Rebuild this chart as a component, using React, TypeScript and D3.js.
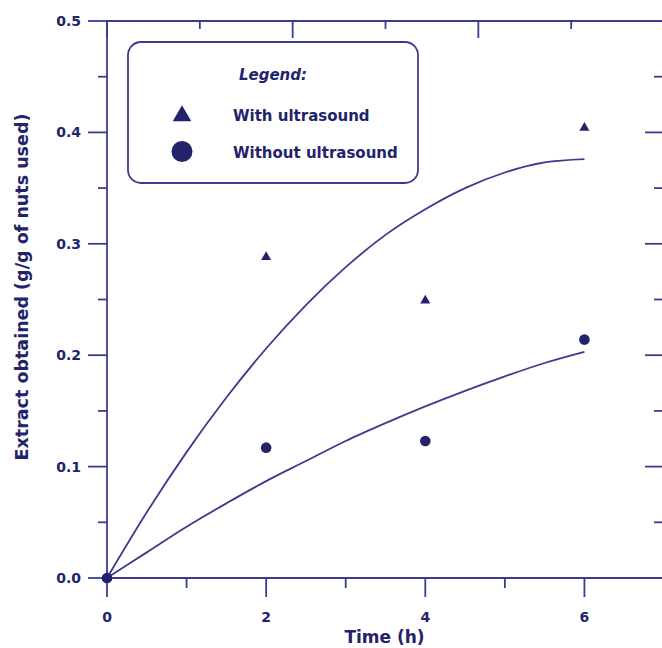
import React from "react";
import * as d3 from "d3";

// Measured data points (Time in h, extract g/g)
const timesMeasured = [0, 2, 4, 6];
const withUltrasound = [0, 0.288, 0.249, 0.404];
const withoutUltrasound = [0, 0.117, 0.123, 0.214];

// Fitted trend curves
const curveTimes = [0, 0.5, 1, 1.5, 2, 2.5, 3, 3.5, 4, 4.5, 5, 5.5, 6];
const curveWith = [0, 0.059, 0.113, 0.162, 0.206, 0.245, 0.279, 0.308, 0.331, 0.35, 0.364, 0.373, 0.376];
const curveWithout = [0, 0.023, 0.046, 0.067, 0.087, 0.105, 0.123, 0.139, 0.154, 0.168, 0.181, 0.193, 0.203];

// Axis ticks
const xMajorTicks = [0, 2, 4, 6];
const xMinorTicks = [1, 3, 5, 7];
const yMajorTicks = [0, 0.1, 0.2, 0.3, 0.4, 0.5];
const yMinorTicks = [0.05, 0.15, 0.25, 0.35, 0.45];
const topMajorTicks = [0, 2, 4, 6];
const topMinorTicks = [1, 3, 5];

const legendTitle = "Legend:";
const seriesNames = ["With ultrasound", "Without ultrasound"];
const xTitle = "Time (h)";
const yTitle = "Extract obtained (g/g of nuts used)";

const TEXT = "#23236c";
const LINE = "#3c3c8f";
const FONT = "'DejaVu Sans', sans-serif";

export default function App() {
  const W = 662, H = 648;
  const x = d3.scaleLinear().domain([0, 7]).range([107, 664]);
  const xTop = d3.scaleLinear().domain([0, 6]).range([107, 664]);
  const y = d3.scaleLinear().domain([0, 0.5]).range([578, 21]);
  const x0 = x(0), x1 = x(7), y0 = y(0), y1 = y(0.5);

  const line = d3
    .line<number>()
    .x((_, i) => x(curveTimes[i]))
    .y((d) => y(d))
    .curve(d3.curveMonotoneX);

  const triSmall = d3.symbol(d3.symbolTriangle, 44)()!;
  const triBig = d3.symbol(d3.symbolTriangle, 150)()!;
  const fmt = d3.format(".1f");

  return (
    <svg width={W} height={H} style={{ position: "absolute", left: 0, top: 0 }} fontFamily={FONT}>
      <rect x={0} y={0} width={W} height={H} fill="#fff" />
      {/* frame */}
      <g stroke={LINE} strokeWidth={1.8} fill="none">
        <line x1={x0} y1={y0} x2={x1} y2={y0} />
        <line x1={x0} y1={y1} x2={x1} y2={y1} />
        <line x1={x0} y1={y0 + 1} x2={x0} y2={y1} />
        <line x1={x1} y1={y0} x2={x1} y2={y1} />
        {/* left ticks */}
        {yMajorTicks.map((t) => (
          <line key={"lm" + t} x1={x0 - 19} x2={x0} y1={y(t)} y2={y(t)} />
        ))}
        {yMinorTicks.map((t) => (
          <line key={"ln" + t} x1={x0 - 9} x2={x0} y1={y(t)} y2={y(t)} />
        ))}
        {/* right ticks (inward) */}
        {yMajorTicks.map((t) => (
          <line key={"rm" + t} x1={x1 - 19} x2={x1} y1={y(t)} y2={y(t)} />
        ))}
        {yMinorTicks.map((t) => (
          <line key={"rn" + t} x1={x1 - 10} x2={x1} y1={y(t)} y2={y(t)} />
        ))}
        {/* bottom ticks */}
        {xMajorTicks.map((t) => (
          <line key={"bm" + t} x1={x(t)} x2={x(t)} y1={y0} y2={y0 + 19} />
        ))}
        {xMinorTicks.map((t) => (
          <line key={"bn" + t} x1={x(t)} x2={x(t)} y1={y0} y2={y0 + 10} />
        ))}
        {/* top ticks (inward) */}
        {topMajorTicks.map((t) => (
          <line key={"tm" + t} x1={xTop(t)} x2={xTop(t)} y1={y1} y2={y1 + 17} />
        ))}
        {topMinorTicks.map((t) => (
          <line key={"tn" + t} x1={xTop(t)} x2={xTop(t)} y1={y1} y2={y1 + 8} />
        ))}
      </g>

      {/* tick labels */}
      <g fill={TEXT} fontWeight="bold" fontSize={14}>
        {yMajorTicks.map((t) => (
          <text key={"yl" + t} x={81} y={y(t) + 5} textAnchor="end">
            {fmt(t)}
          </text>
        ))}
        {xMajorTicks.map((t) => (
          <text key={"xl" + t} x={x(t)} y={622} textAnchor="middle">
            {t}
          </text>
        ))}
      </g>
      <text x={(x0 + x1) / 2 - 1} y={643} textAnchor="middle" fontWeight="bold" fontSize={17} fill={TEXT}>
        {xTitle}
      </text>
      <text
        transform={`translate(28,287) rotate(-90)`}
        textAnchor="middle"
        fontWeight="bold"
        fontSize={17.5}
        fill={TEXT}
      >
        {yTitle}
      </text>

      {/* trend curves */}
      <path d={line(curveWith)!} fill="none" stroke={LINE} strokeWidth={1.8} />
      <path d={line(curveWithout)!} fill="none" stroke={LINE} strokeWidth={1.8} />

      {/* measured points */}
      {withUltrasound.map((v, i) => (
        <path key={"tri" + i} d={triSmall} transform={`translate(${x(timesMeasured[i])},${y(v)})`} fill={TEXT} />
      ))}
      {withoutUltrasound.map((v, i) => (
        <circle key={"cir" + i} cx={x(timesMeasured[i])} cy={y(v)} r={5.3} fill={TEXT} />
      ))}

      {/* legend */}
      <rect x={128} y={42} width={290} height={141} rx={13} fill="#fff" stroke={LINE} strokeWidth={1.8} />
      <text x={273} y={80} textAnchor="middle" fontWeight="bold" fontStyle="italic" fontSize={15} fill={TEXT}>
        {legendTitle}
      </text>
      <path d={triBig} transform="translate(182,116)" fill={TEXT} />
      <circle cx={182} cy={151.5} r={10.5} fill={TEXT} />
      <text x={233} y={121} fontWeight="bold" fontSize={15} fill={TEXT}>
        {seriesNames[0]}
      </text>
      <text x={233} y={158} fontWeight="bold" fontSize={15} fill={TEXT}>
        {seriesNames[1]}
      </text>
    </svg>
  );
}
